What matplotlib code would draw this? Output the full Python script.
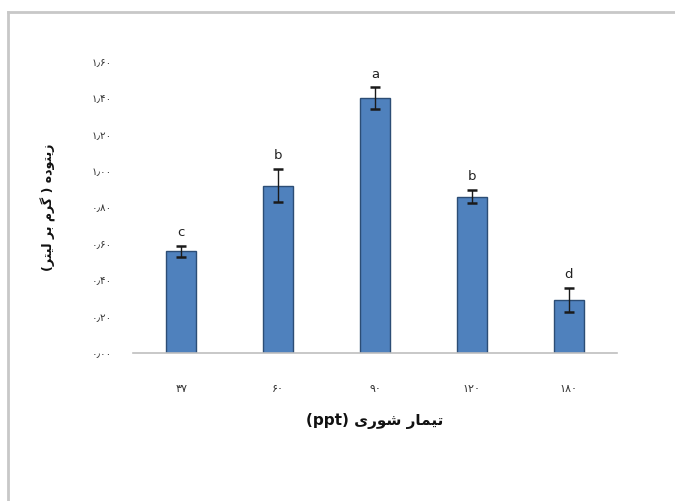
import matplotlib
matplotlib.use("Agg")
import matplotlib.pyplot as plt
from matplotlib.lines import Line2D

# ---- data ----
categories = ["۳۷", "۶۰", "۹۰", "۱۲۰", "۱۸۰"]
biomass = [0.56, 0.92, 1.40, 0.86, 0.29]
errors = [0.03, 0.09, 0.06, 0.035, 0.065]
groups = ["c", "b", "a", "b", "d"]
yticks = [0.0, 0.2, 0.4, 0.6, 0.8, 1.0, 1.2, 1.4, 1.6]

xlabel_fa = "تیمار شوری"
xlabel_unit = "(ppt)"
ylabel_fa = "زیتوده ( گرم بر لیتر)"

# ---- minimal Arabic/Persian shaping (presentation forms) ----
# letter: (isolated, final, initial, medial); None for initial/medial => right-joining only
FORMS = {
    "ا": ("\uFE8D", "\uFE8E", None, None),
    "ب": ("\uFE8F", "\uFE90", "\uFE91", "\uFE92"),
    "ت": ("\uFE95", "\uFE96", "\uFE97", "\uFE98"),
    "د": ("\uFEA9", "\uFEAA", None, None),
    "ر": ("\uFEAD", "\uFEAE", None, None),
    "ز": ("\uFEAF", "\uFEB0", None, None),
    "ش": ("\uFEB5", "\uFEB6", "\uFEB7", "\uFEB8"),
    "ل": ("\uFEDD", "\uFEDE", "\uFEDF", "\uFEE0"),
    "م": ("\uFEE1", "\uFEE2", "\uFEE3", "\uFEE4"),
    "ه": ("\uFEE9", "\uFEEA", "\uFEEB", "\uFEEC"),
    "و": ("\uFEED", "\uFEEE", None, None),
    "گ": ("\uFB92", "\uFB93", "\uFB94", "\uFB95"),
    "ی": ("\uFBFC", "\uFBFD", "\uFBFE", "\uFBFF"),
}
MIRROR = {"(": ")", ")": "("}


def shape(text):
    out = []
    n = len(text)
    for i, ch in enumerate(text):
        if ch not in FORMS:
            out.append(ch)
            continue
        iso, fin, ini, med = FORMS[ch]
        prev = text[i - 1] if i > 0 else ""
        nxt = text[i + 1] if i + 1 < n else ""
        join_prev = prev in FORMS and FORMS[prev][2] is not None
        join_next = ini is not None and nxt in FORMS
        if join_prev and join_next:
            out.append(med)
        elif join_prev:
            out.append(fin)
        elif join_next:
            out.append(ini)
        else:
            out.append(iso)
    return out


def rtl(text):
    glyphs = shape(text)
    return "".join(MIRROR.get(g, g) for g in reversed(glyphs))


def fa_num(v):
    digits = "۰۱۲۳۴۵۶۷۸۹"
    s = f"{v:.2f}"
    return "".join(digits[int(c)] if c.isdigit() else "٫" for c in s)


plt.rcParams["font.family"] = ["DejaVu Sans"]

fig = plt.figure(figsize=(6.75, 5.01), dpi=100)
ax = fig.add_axes([133 / 675, 1 - 353 / 501, (617 - 133) / 675, (353 - 62) / 501])

x = list(range(len(categories)))
ax.bar(x, biomass, width=0.31, color="#4F81BD", edgecolor="#2C4D75", linewidth=1.0, zorder=2)
ax.errorbar(x, biomass, yerr=errors, fmt="none", ecolor="#1a1a1a", elinewidth=1.0,
            capsize=3.5, capthick=1.8, zorder=3)

for xi, v, e, g in zip(x, biomass, errors, groups):
    ax.annotate(g, (xi, v + e), xytext=(0, 5), textcoords="offset points",
                ha="center", va="bottom", fontsize=9.5, color="#222222")

ax.set_xlim(-0.5, len(categories) - 0.5)
ax.set_ylim(0, 1.6)
ax.set_xticks(x)
ax.set_xticklabels(categories, fontsize=8, color="#333333")
ax.set_yticks(yticks)
ax.set_yticklabels([fa_num(t) for t in yticks], fontsize=7.5, color="#333333")
ax.tick_params(axis="both", length=0)
ax.tick_params(axis="x", pad=22)
ax.tick_params(axis="y", pad=15)

for side in ("top", "right", "left"):
    ax.spines[side].set_visible(False)
ax.spines["bottom"].set_color("#BFBFBF")
ax.spines["bottom"].set_linewidth(1.2)

ax.set_xlabel(xlabel_unit + " " + rtl(xlabel_fa), fontsize=11, fontweight="bold",
              labelpad=14, color="#111111")
ax.set_ylabel(rtl(ylabel_fa), fontsize=9, fontweight="bold", labelpad=26, color="#111111")

# outer frame (left and top edges)
W, H = 675, 501
fig.add_artist(Line2D([8 / W, 8 / W], [0, 1 - 12 / H], transform=fig.transFigure,
                      color="#C8C8C8", linewidth=2))
fig.add_artist(Line2D([8 / W, 1], [1 - 12 / H, 1 - 12 / H], transform=fig.transFigure,
                      color="#C8C8C8", linewidth=2))

fig.savefig("out.png", dpi=100)
